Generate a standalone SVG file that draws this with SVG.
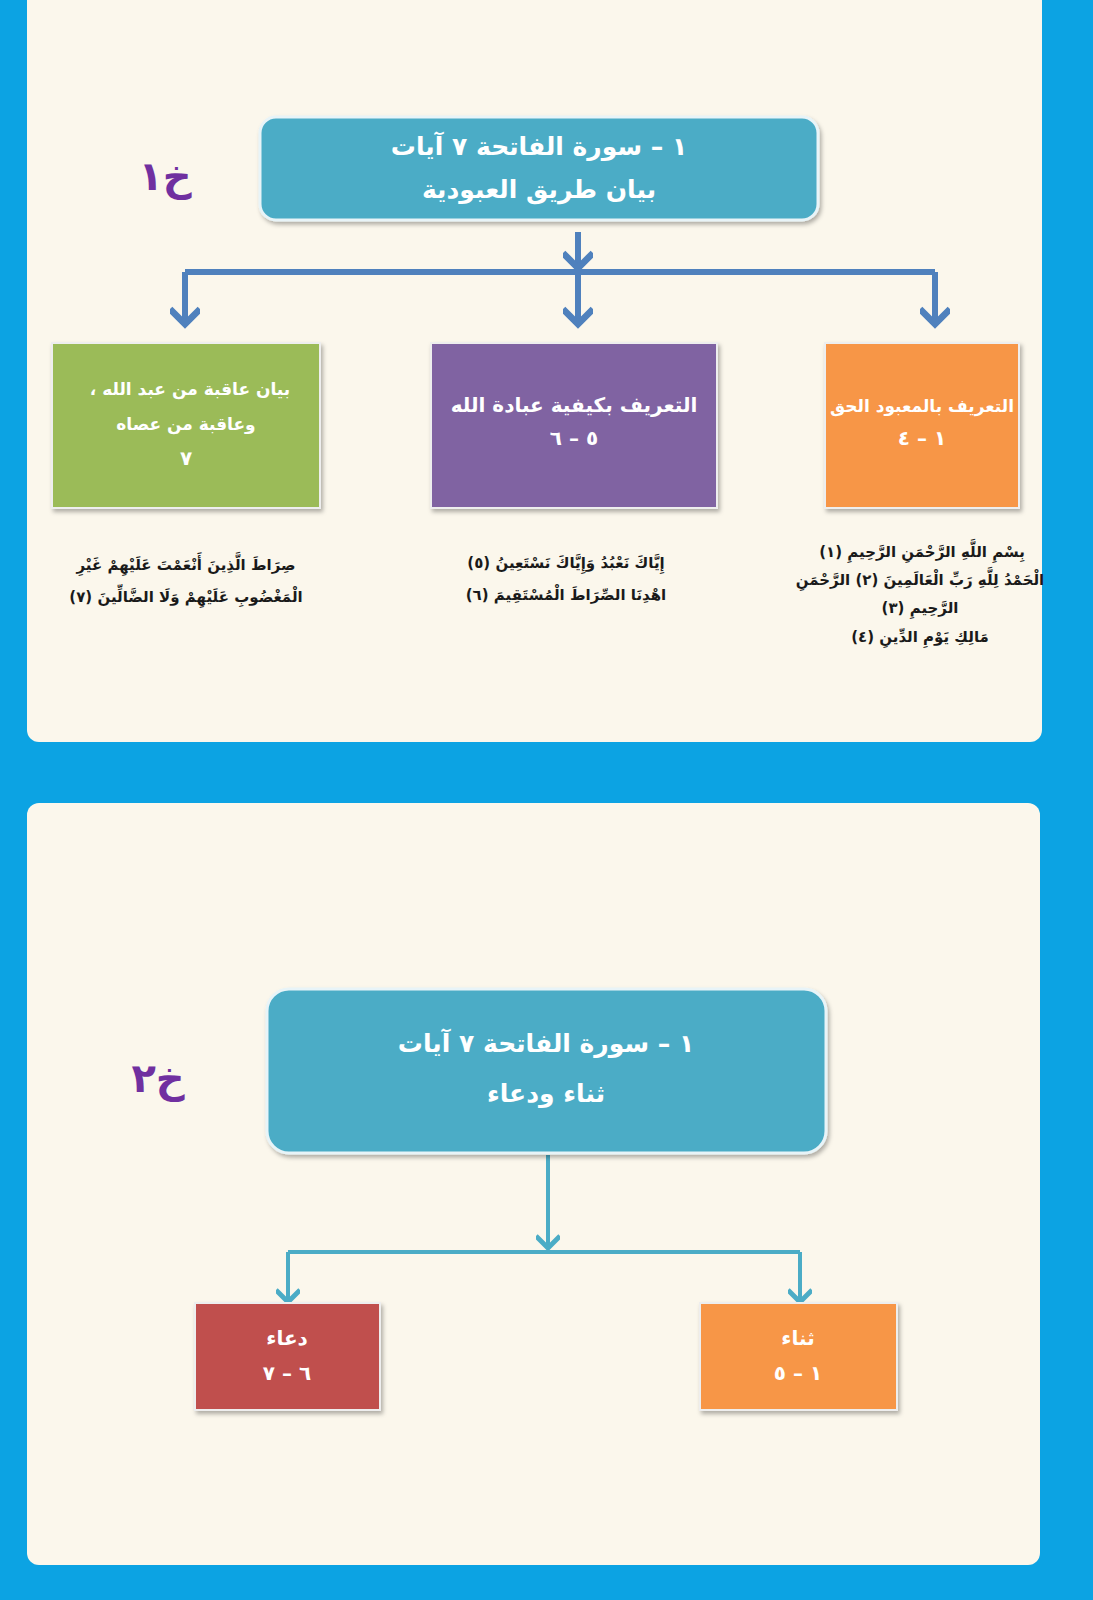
<svg xmlns="http://www.w3.org/2000/svg" width="1093" height="1600" viewBox="0 0 1093 1600">
<defs>
<style>
text{font-family:"DejaVu Sans","Noto Sans",sans-serif;font-weight:bold;text-anchor:middle;direction:rtl}
.w{fill:#fff;font-size:20px}
.ws{fill:#fff;font-size:17px}
.h{fill:#fff;font-size:25px}
.v{fill:#1a1a1a;font-size:15px}
.k{fill:#7030a0;font-size:40px}
.c{stroke:#4f81bd;stroke-width:6;fill:none}
.c2{stroke:#4bacc6;stroke-width:4;fill:none}
</style>
<marker id="a" viewBox="0 0 10 10" refX="8" refY="5" markerWidth="5" markerHeight="5" orient="auto" markerUnits="strokeWidth"><path d="M3,0 L8,5 L3,10" fill="none" stroke="#4f81bd" stroke-width="2.2"/></marker>
<marker id="b" viewBox="0 0 10 10" refX="8" refY="5" markerWidth="6" markerHeight="6" orient="auto" markerUnits="strokeWidth"><path d="M3,0 L8,5 L3,10" fill="none" stroke="#4bacc6" stroke-width="2"/></marker>
<filter id="s"><feDropShadow dx="2" dy="3" stdDeviation="2" flood-opacity="0.3"/></filter>
</defs>
<rect width="1093" height="1600" fill="#0ca3e3"/>
<rect x="27" y="-20" width="1015" height="762" rx="12" fill="#fbf7ec"/>
<rect x="27" y="803" width="1013" height="762" rx="12" fill="#fbf7ec"/>

<g id="connectors">
<path class="c" d="M578 232 V268" marker-end="url(#a)"/>
<path class="c" d="M185 272 H935"/>
<path class="c" d="M185 272 V324" marker-end="url(#a)"/>
<path class="c" d="M578 272 V324" marker-end="url(#a)"/>
<path class="c" d="M935 272 V324" marker-end="url(#a)"/>
<path class="c2" d="M548 1155 V1248" marker-end="url(#b)"/>
<path class="c2" d="M288 1252 H800"/>
<path class="c2" d="M288 1252 V1302" marker-end="url(#b)"/>
<path class="c2" d="M800 1252 V1302" marker-end="url(#b)"/>
</g>

<g id="label1"><text class="k" x="165" y="190">خ١</text></g>
<g id="root1">
<rect x="260" y="117" width="558" height="103" rx="16" fill="#4bacc6" stroke="#e8f4f8" stroke-width="3" filter="url(#s)"/>
<text class="h" x="539" y="155">١ – سورة الفاتحة ٧ آيات</text>
<text class="h" x="539" y="198">بيان طريق العبودية</text>
</g>
<g id="n1">
<rect x="825" y="343" width="194" height="165" fill="#f79646" stroke="#eee" stroke-width="2" filter="url(#s)"/>
<text class="ws" x="922" y="412">التعريف بالمعبود الحق</text>
<text class="w" x="922" y="445">١ – ٤</text>
</g>
<g id="n2">
<rect x="431" y="343" width="286" height="165" fill="#8064a2" stroke="#eee" stroke-width="2" filter="url(#s)"/>
<text class="w" x="574" y="412">التعريف بكيفية عبادة الله</text>
<text class="w" x="574" y="445">٥ – ٦</text>
</g>
<g id="n3">
<rect x="52" y="343" width="268" height="165" fill="#9bbb59" stroke="#eee" stroke-width="2" filter="url(#s)"/>
<text class="ws" x="190" y="395">بيان عاقبة من عبد الله ،</text>
<text class="ws" x="186" y="430">وعاقبة من عصاه</text>
<text class="w" x="186" y="465">٧</text>
</g>
<g id="verses">
<text class="v" x="922" y="557">بِسْمِ اللَّهِ الرَّحْمَنِ الرَّحِيمِ (١)</text>
<text class="v" x="920" y="585">الْحَمْدُ لِلَّهِ رَبِّ الْعَالَمِينَ (٢) الرَّحْمَنِ</text>
<text class="v" x="920" y="613">الرَّحِيمِ (٣)</text>
<text class="v" x="920" y="642">مَالِكِ يَوْمِ الدِّينِ (٤)</text>
<text class="v" x="566" y="568">إِيَّاكَ نَعْبُدُ وَإِيَّاكَ نَسْتَعِينُ (٥)</text>
<text class="v" x="566" y="600">اهْدِنَا الصِّرَاطَ الْمُسْتَقِيمَ (٦)</text>
<text class="v" x="186" y="570">صِرَاطَ الَّذِينَ أَنْعَمْتَ عَلَيْهِمْ غَيْرِ</text>
<text class="v" x="186" y="602">الْمَغْضُوبِ عَلَيْهِمْ وَلَا الضَّالِّينَ (٧)</text>
</g>

<g id="label2"><text class="k" x="158" y="1092">خ٢</text></g>
<g id="root2">
<rect x="267" y="989" width="559" height="164" rx="22" fill="#4bacc6" stroke="#e8f4f8" stroke-width="3" filter="url(#s)"/>
<text class="h" x="546" y="1052">١ – سورة الفاتحة ٧ آيات</text>
<text class="h" x="546" y="1102">ثناء ودعاء</text>
</g>
<g id="m1">
<rect x="700" y="1303" width="197" height="107" fill="#f79646" stroke="#eee" stroke-width="2" filter="url(#s)"/>
<text class="w" x="798" y="1345">ثناء</text>
<text class="w" x="798" y="1380">١ – ٥</text>
</g>
<g id="m2">
<rect x="195" y="1303" width="185" height="107" fill="#c0504d" stroke="#eee" stroke-width="2" filter="url(#s)"/>
<text class="w" x="287" y="1345">دعاء</text>
<text class="w" x="287" y="1380">٦ – ٧</text>
</g>
</svg>
